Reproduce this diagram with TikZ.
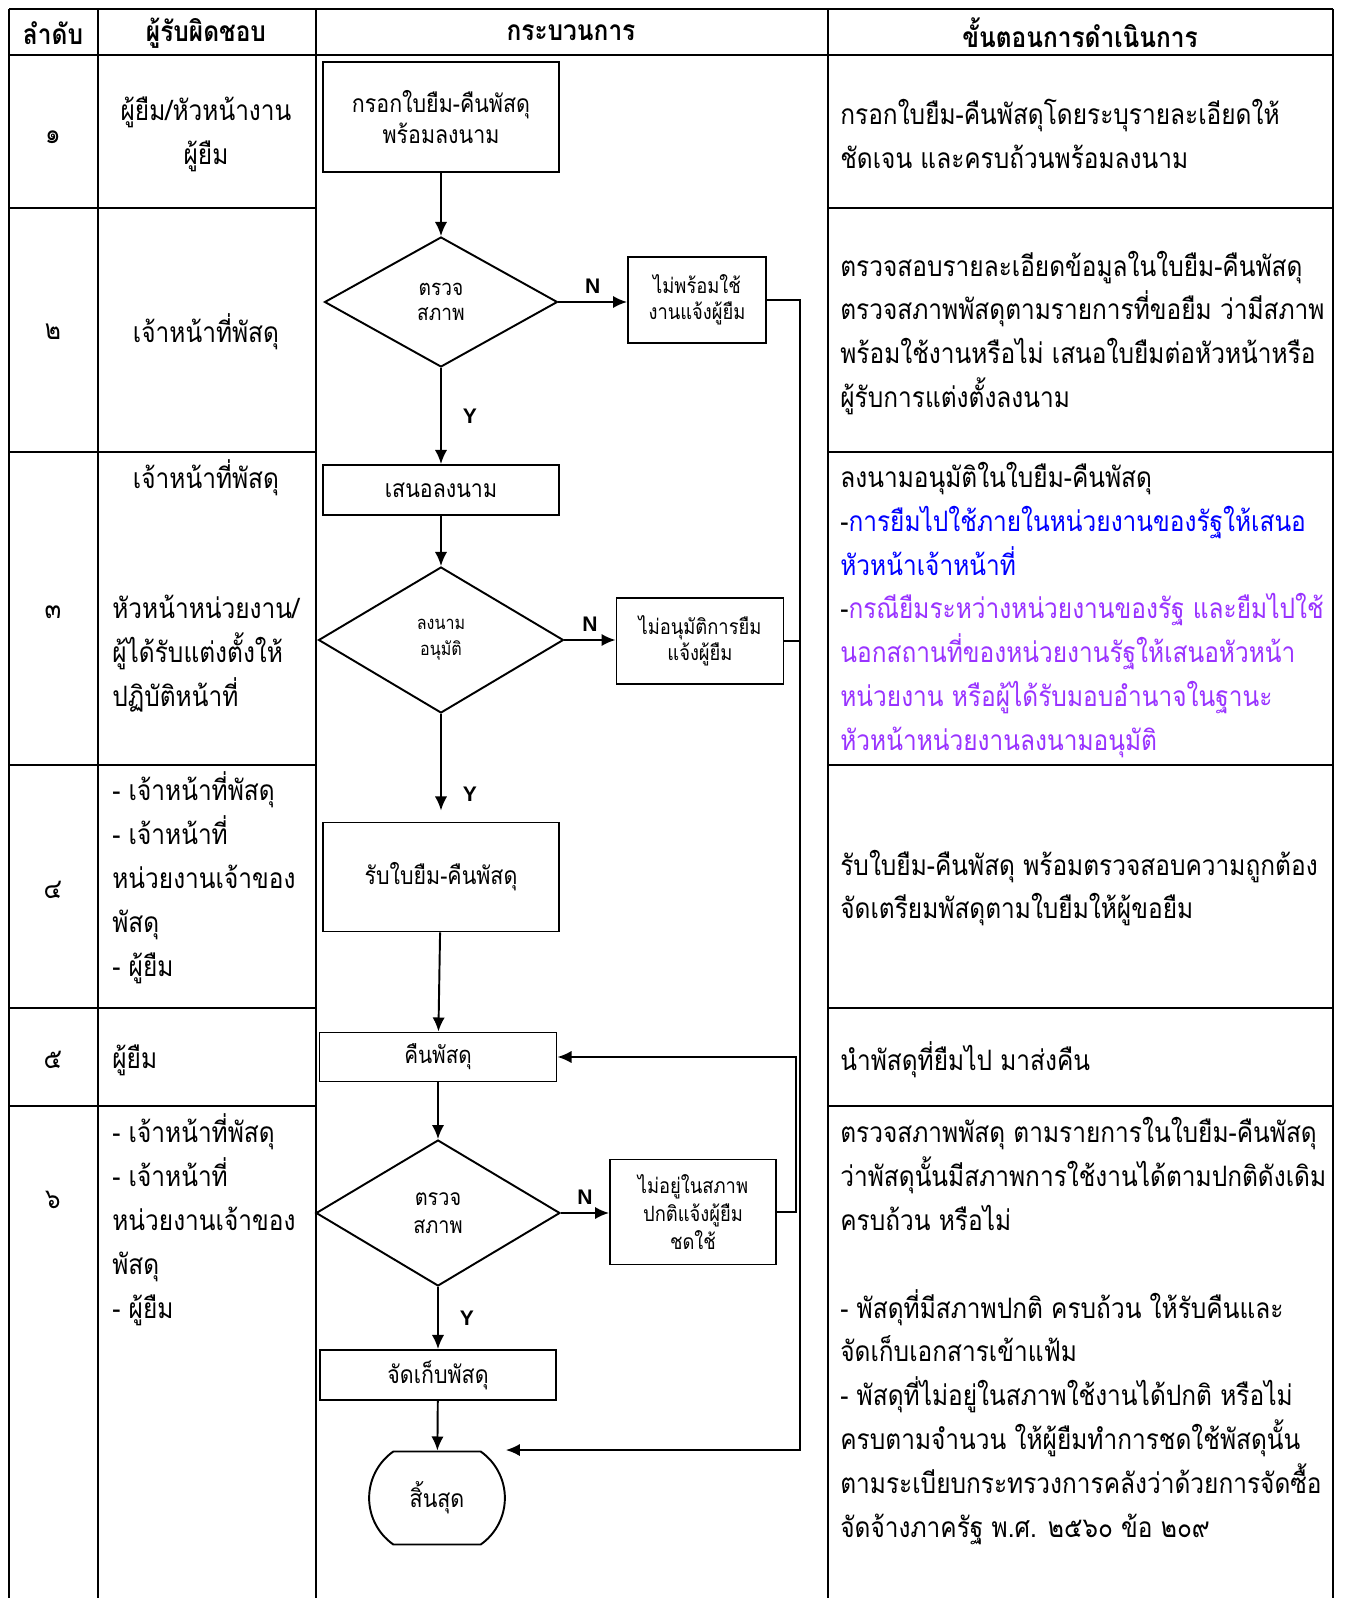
\documentclass[tikz,border=0pt]{standalone}
\usepackage{fontspec}
\setmainfont{Loma}[Script=Thai,FakeStretch=0.87]
\newfontfamily\lblfont{Liberation Sans}
\usetikzlibrary{shapes.geometric,shapes.misc,arrows.meta}
\definecolor{tblue}{RGB}{0,0,255}
\definecolor{tpurple}{RGB}{153,51,255}
\newcommand{\fs}[2]{\fontsize{#1}{#2}\selectfont}

\begin{document}
\begin{tikzpicture}[x=0.02cm,y=-0.02cm,
  grid/.style={line width=1.2pt},
  box/.style={draw,line width=1.1pt,inner sep=2pt,align=center},
  dec/.style={draw,diamond,line width=1.1pt,inner sep=0pt,align=center},
  arr/.style={->,>={Latex[length=8pt,width=7pt]},line width=1.1pt},
  yn/.style={font=\lblfont\bfseries\fs{12}{14},inner sep=0pt},
  txt/.style={inner sep=0pt,align=left,anchor=west,font=\fs{16}{25}},
  ctr/.style={inner sep=0pt,align=center,font=\fs{16}{25}}]

\useasboundingbox (0,0) rectangle (1361,1598);

% table
\foreach \c in {9,98,316,828,1333} { \draw[grid] (\c,9) -- (\c,1598); }
\draw[grid] (9,9) -- (1333,9);
\draw[grid] (9,55) -- (1333,55);
\foreach \r in {208,452,765,1008,1106} {
  \draw[grid] (9,\r) -- (316,\r);
  \draw[grid] (828,\r) -- (1333,\r);
}

\node[ctr,font=\bfseries\fs{16}{25}] (h1) at (53,33) {ลำดับ};
\node[ctr,font=\bfseries\fs{16}{25}] (h2) at (206,33) {ผู้รับผิดชอบ};
\node[ctr,font=\bfseries\fs{16}{25}] (h3) at (571,33) {กระบวนการ};
\node[ctr,font=\bfseries\fs{16}{25}] (h4) at (1080,33) {ขั้นตอนการดำเนินการ};

\foreach \n/\y [count=\i] in {๑/137,๒/332,๓/612,๔/890,๕/1060,๖/1200}
  \node[ctr] (no\i) at (53,\y) {\n};

\node[ctr] (r1) at (206,134) {ผู้ยืม/หัวหน้างาน\\ผู้ยืม};
\node[ctr] (r2) at (206,332) {เจ้าหน้าที่พัสดุ};
\node[ctr] (r3a) at (206,478) {เจ้าหน้าที่พัสดุ};
\node[txt] (r3b) at (112,654) {หัวหน้าหน่วยงาน/\\ผู้ได้รับแต่งตั้งให้\\ปฏิบัติหน้าที่};
\node[txt] (r4) at (112,878) {- เจ้าหน้าที่พัสดุ\\- เจ้าหน้าที่\\หน่วยงานเจ้าของ\\พัสดุ\\- ผู้ยืม};
\node[txt] (r5) at (112,1060) {ผู้ยืม};
\node[txt] (r6) at (112,1220) {- เจ้าหน้าที่พัสดุ\\- เจ้าหน้าที่\\หน่วยงานเจ้าของ\\พัสดุ\\- ผู้ยืม};

\node[txt] (s1) at (840,134) {กรอกใบยืม-คืนพัสดุโดยระบุรายละเอียดให้\\ชัดเจน และครบถ้วนพร้อมลงนาม};
\node[txt] (s2) at (840,333) {ตรวจสอบรายละเอียดข้อมูลในใบยืม-คืนพัสดุ\\ตรวจสภาพพัสดุตามรายการที่ขอยืม ว่ามีสภาพ\\พร้อมใช้งานหรือไม่ เสนอใบยืมต่อหัวหน้าหรือ\\ผู้รับการแต่งตั้งลงนาม};
\node[txt] (s3) at (840,610) {ลงนามอนุมัติในใบยืม-คืนพัสดุ\\
  -{\color{tblue}การยืมไปใช้ภายในหน่วยงานของรัฐให้เสนอ}\\
  {\color{tblue}หัวหน้าเจ้าหน้าที่}\\
  -{\color{tpurple}กรณียืมระหว่างหน่วยงานของรัฐ และยืมไปใช้}\\
  {\color{tpurple}นอกสถานที่ของหน่วยงานรัฐให้เสนอหัวหน้า}\\
  {\color{tpurple}หน่วยงาน หรือผู้ได้รับมอบอำนาจในฐานะ}\\
  {\color{tpurple}หัวหน้าหน่วยงานลงนามอนุมัติ}};
\node[txt] (s4) at (840,888) {รับใบยืม-คืนพัสดุ พร้อมตรวจสอบความถูกต้อง\\จัดเตรียมพัสดุตามใบยืมให้ผู้ขอยืม};
\node[txt] (s5) at (840,1060) {นำพัสดุที่ยืมไป มาส่งคืน};
\node[txt] (s6) at (840,1331) {ตรวจสภาพพัสดุ ตามรายการในใบยืม-คืนพัสดุ\\ว่าพัสดุนั้นมีสภาพการใช้งานได้ตามปกติดังเดิม\\ครบถ้วน หรือไม่\\[25pt]
  - พัสดุที่มีสภาพปกติ ครบถ้วน ให้รับคืนและ\\จัดเก็บเอกสารเข้าแฟ้ม\\- พัสดุที่ไม่อยู่ในสภาพใช้งานได้ปกติ หรือไม่\\ครบตามจำนวน ให้ผู้ยืมทำการชดใช้พัสดุนั้น\\ตามระเบียบกระทรวงการคลังว่าด้วยการจัดซื้อ\\จัดจ้างภาครัฐ พ.ศ. ๒๕๖๐ ข้อ ๒๐๙};

% flow
\node[box,minimum width=4.72cm,minimum height=2.2cm,font=\fs{14}{18}] (fill) at (441,117) {กรอกใบยืม-คืนพัสดุ\\พร้อมลงนาม};
\node[dec,minimum width=4.66cm,minimum height=2.6cm,font=\fs{12.5}{14}] (chk1) at (441,302) {ตรวจ\\สภาพ};
\node[box,minimum width=2.76cm,minimum height=1.72cm,font=\fs{12}{15}] (nouse) at (697,300) {ไม่พร้อมใช้\\งานแจ้งผู้ยืม};
\node[box,minimum width=4.72cm,minimum height=1cm,font=\fs{14}{18}] (prop) at (441,490) {เสนอลงนาม};
\node[dec,minimum width=4.9cm,minimum height=2.92cm,font=\fs{10.5}{15}] (sign) at (441,640) {ลงนาม\\อนุมัติ};
\node[box,minimum width=3.34cm,minimum height=1.72cm,font=\fs{12}{15}] (noappr) at (700,641) {ไม่อนุมัติการยืม\\แจ้งผู้ยืม};
\node[box,minimum width=4.72cm,minimum height=2.18cm,font=\fs{14}{18}] (recv) at (441,877) {รับใบยืม-คืนพัสดุ};
\node[box,minimum width=4.74cm,minimum height=0.98cm,font=\fs{13.5}{18}] (ret) at (438,1057) {คืนพัสดุ};
\node[dec,minimum width=4.88cm,minimum height=2.92cm,font=\fs{13}{16}] (chk2) at (438,1213) {ตรวจ\\สภาพ};
\node[box,minimum width=3.32cm,minimum height=2.1cm,font=\fs{12}{16}] (nofix) at (693,1212) {ไม่อยู่ในสภาพ\\ปกติแจ้งผู้ยืม\\ชดใช้};
\node[box,minimum width=4.72cm,minimum height=1cm,font=\fs{14}{18}] (keep) at (438,1375) {จัดเก็บพัสดุ};
\node[draw,rounded rectangle,rounded rectangle arc length=110,line width=1.1pt,minimum width=2.95cm,minimum height=1.86cm,font=\fs{14}{18}] (fin) at (437,1498) {สิ้นสุด};

\draw[arr] (fill) -- (chk1);
\draw[arr] (chk1.east) -- node[yn,above=0.15cm] (n1) {N} (chk1.east -| nouse.west);
\draw[arr] (chk1) -- node[yn,right=0.42cm] (y1) {Y} (prop);
\draw[arr] (prop) -- (sign);
\draw[arr] (sign.east) -- node[yn,above=0.15cm] (n2) {N} (sign.east -| noappr.west);
\draw[arr,shorten >=0.22cm] (sign) -- node[yn,right=0.42cm,pos=0.75] (y2) {Y} (recv);
\draw[arr] (recv) -- (ret);
\draw[arr] (ret) -- (chk2);
\draw[arr] (chk2.east) -- node[yn,above=0.15cm] (n3) {N} (chk2.east -| nofix.west);
\draw[arr] (chk2) -- node[yn,right=0.42cm] (y3) {Y} (keep);
\draw[arr] (keep) -- (fin);

\coordinate (rail) at (800,1450);
\draw[arr] (nouse.east) -| (rail) -- (rail -| fin.east);
\draw[line width=1.1pt] (noappr.east) -- (noappr.east -| rail);
\draw[arr] (nofix.east) -- ++(19,0) |- (ret.east);

\end{tikzpicture}
\end{document}
